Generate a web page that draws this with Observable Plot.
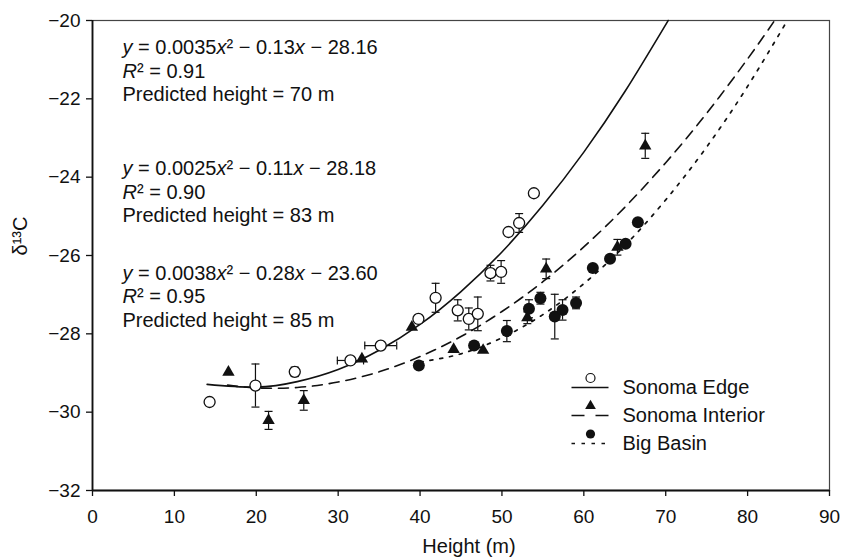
<!DOCTYPE html>
<html><head><meta charset="utf-8">
<script src="https://cdn.jsdelivr.net/npm/d3@7"></script>
<script src="https://cdn.jsdelivr.net/npm/@observablehq/plot@0.6"></script>
<style>body{margin:0;background:#fff}</style>
</head><body><div id="chart"></div>
<script>
// ---- axis ticks ----
const xTicks = [0, 10, 20, 30, 40, 50, 60, 70, 80, 90];
const yTicks = [-32, -30, -28, -26, -24, -22, -20];
const seriesNames = ["Sonoma Edge", "Sonoma Interior", "Big Basin"];

// ---- Sonoma Edge (open circles) ----
const edgeX    = [14.3, 19.9, 24.7, 31.5, 35.2, 39.8, 41.9, 44.6, 45.95, 47.05, 48.6, 49.9, 50.8, 52.1, 53.9];
const edgeY    = [-29.74, -29.32, -28.97, -28.68, -28.30, -27.62, -27.08, -27.40, -27.62, -27.49, -26.45, -26.42, -25.40, -25.17, -24.41];
const edgeYErr = [0, 0.55, 0.12, 0, 0, 0, 0.37, 0.27, 0.28, 0.43, 0.2, 0.29, 0, 0.24, 0];
const edgeXErr = [0, 0, 0, 1.6, 1.95, 0, 0, 0, 0, 0, 0, 0, 0, 0, 0];

// ---- Sonoma Interior (filled triangles) ----
const interiorX    = [16.6, 21.5, 25.8, 32.9, 39.0, 44.1, 47.7, 53.1, 55.4, 64.1, 67.5];
const interiorY    = [-28.98, -30.21, -29.70, -28.64, -27.83, -28.40, -28.42, -27.59, -26.34, -25.79, -23.2];
const interiorYErr = [0, 0.23, 0.25, 0, 0, 0, 0, 0.15, 0.25, 0.2, 0.32];

// ---- Big Basin (filled circles) ----
const basinX    = [39.85, 46.6, 50.6, 53.3, 54.7, 56.45, 57.4, 59.05, 61.1, 63.2, 65.1, 66.6];
const basinY    = [-28.81, -28.30, -27.93, -27.36, -27.09, -27.56, -27.39, -27.21, -26.32, -26.08, -25.70, -25.15];
const basinYErr = [0, 0, 0.27, 0.23, 0.15, 0.57, 0.26, 0.15, 0, 0, 0, 0];

// ---- fitted curves ----
const edgeCurveX = [14, 20, 25, 30, 35, 40, 45, 50, 55, 60, 65, 70.3];
const edgeCurveY = [-29.29, -29.36, -29.22, -28.91, -28.42, -27.76, -26.92, -25.91, -24.72, -23.36, -21.82, -20.0];
const interiorCurveX = [16.5, 20, 25, 30, 35, 40, 45, 50, 55, 60, 65, 70, 75, 80, 83.3];
const interiorCurveY = [-29.31, -29.38, -29.37, -29.23, -28.97, -28.58, -28.07, -27.43, -26.67, -25.78, -24.77, -23.63, -22.37, -20.98, -20.0];
const basinCurveX = [40, 45, 50, 55, 60, 65, 70, 75, 80, 84.85];
const basinCurveY = [-28.72, -28.51, -28.10, -27.51, -26.72, -25.75, -24.58, -23.23, -21.68, -20.0];

// ---- annotation text ----
const eqEdge = ["y = 0.0035x² − 0.13x − 28.16", "R² = 0.91", "Predicted height = 70 m"];
const eqInterior = ["y = 0.0025x² − 0.11x − 28.18", "R² = 0.90", "Predicted height = 83 m"];
const eqBasin = ["y = 0.0038x² − 0.28x − 23.60", "R² = 0.95", "Predicted height = 85 m"];
const xLabel = "Height (m)";
const yLabel = "δ¹³C";

const FONT = "'Liberation Sans', Arial, Helvetica, sans-serif";
const INK = "#111";

const curveRows = (xs, ys) => xs.map((x, i) => ({x, y: ys[i]}));
const pointRows = (xs, ys, ye, xe) => xs.map((x, i) => ({x, y: ys[i], ye: ye[i], xe: xe ? xe[i] : 0}));
const edge = pointRows(edgeX, edgeY, edgeYErr, edgeXErr);
const interior = pointRows(interiorX, interiorY, interiorYErr);
const basin = pointRows(basinX, basinY, basinYErr);
const allPts = [...edge, ...interior, ...basin];
const vBars = allPts.filter(d => d.ye > 0);
const hBars = allPts.filter(d => d.xe > 0);

const capH = {draw(c) { c.moveTo(-4, 0); c.lineTo(4, 0); }};
const capV = {draw(c) { c.moveTo(0, -4); c.lineTo(0, 4); }};
const seg = {draw(c) { c.moveTo(-18.5, 0); c.lineTo(18.5, 0); }};

const dashLong = "10,7", dashDot = "3,7";

const legendRow = (i, symbolOpts, dash) => {
  const base = -103 + i * 28;
  return [
    Plot.dot([0], {frameAnchor: "bottom-right", dx: -239.5, dy: base, symbol: seg, fill: "none", stroke: INK, strokeWidth: 1.5, strokeDasharray: dash}),
    Plot.dot([0], {frameAnchor: "bottom-right", dx: -239, dy: base - 9.5, ...symbolOpts}),
    Plot.text([seriesNames[i]], {frameAnchor: "bottom-right", dx: -207, dy: base, textAnchor: "start", lineAnchor: "middle", fontSize: 20, text: d => d, fill: INK})
  ];
};

const eqText = (lines, dy) => Plot.text([lines.join("\n")], {
  frameAnchor: "top-left", dx: 30, dy, textAnchor: "start", lineAnchor: "top", lineHeight: 1.175, fontSize: 20, text: d => d, fill: INK
});

const plot = Plot.plot({
  width: 841, height: 559,
  marginLeft: 92, marginRight: 12, marginTop: 20, marginBottom: 69,
  style: {fontSize: "19px", fontFamily: FONT, color: INK, background: "#fff"},
  x: {domain: [0, 90]},
  y: {domain: [-32, -20]},
  marks: [
    Plot.frame({stroke: "#444", strokeWidth: 1.2}),
    Plot.ruleX([0], {stroke: INK, strokeWidth: 1.8}),
    Plot.ruleY([-32], {stroke: INK, strokeWidth: 1.8}),
    Plot.axisX({ticks: xTicks, tickSize: 6, tickPadding: 13, label: null, tickFormat: d => String(d), strokeWidth: 1.3}),
    Plot.axisY({ticks: yTicks, tickSize: 6, tickPadding: 6, label: null, tickFormat: d => d < 0 ? "−" + Math.abs(d) : String(d), strokeWidth: 1.3}),
    Plot.text([xLabel], {frameAnchor: "bottom", dx: 8, dy: 62, fontSize: 20, text: d => d, fill: INK}),
    Plot.text([yLabel], {frameAnchor: "left", dx: -72, rotate: -90, fontSize: 20, text: d => d, fill: INK}),

    // fitted curves
    Plot.line(curveRows(edgeCurveX, edgeCurveY), {x: "x", y: "y", curve: "natural", stroke: INK, strokeWidth: 1.6}),
    Plot.line(curveRows(interiorCurveX, interiorCurveY), {x: "x", y: "y", curve: "natural", stroke: INK, strokeWidth: 1.6, strokeDasharray: dashLong}),
    Plot.line(curveRows(basinCurveX, basinCurveY), {x: "x", y: "y", curve: "natural", stroke: INK, strokeWidth: 1.7, strokeDasharray: dashDot}),

    // error bars
    Plot.ruleX(vBars, {x: "x", y1: d => d.y - d.ye, y2: d => d.y + d.ye, stroke: INK, strokeWidth: 1.2}),
    Plot.dot(vBars, {x: "x", y: d => d.y - d.ye, symbol: capH, fill: "none", stroke: INK, strokeWidth: 1.2}),
    Plot.dot(vBars, {x: "x", y: d => d.y + d.ye, symbol: capH, fill: "none", stroke: INK, strokeWidth: 1.2}),
    Plot.ruleY(hBars, {y: "y", x1: d => d.x - d.xe, x2: d => d.x + d.xe, stroke: INK, strokeWidth: 1.2}),
    Plot.dot(hBars, {x: d => d.x - d.xe, y: "y", symbol: capV, fill: "none", stroke: INK, strokeWidth: 1.2}),
    Plot.dot(hBars, {x: d => d.x + d.xe, y: "y", symbol: capV, fill: "none", stroke: INK, strokeWidth: 1.2}),

    // points
    Plot.dot(edge, {x: "x", y: "y", r: 5.5, fill: "white", stroke: INK, strokeWidth: 1.3}),
    Plot.dot(interior, {x: "x", y: "y", symbol: "triangle", r: 4.6, fill: INK, stroke: "none"}),
    Plot.dot(basin, {x: "x", y: "y", r: 6, fill: INK, stroke: "none"}),

    // equations
    eqText(eqEdge, 17),
    eqText(eqInterior, 138),
    eqText(eqBasin, 242.5),

    // legend
    ...legendRow(0, {r: 4.5, fill: "white", stroke: INK, strokeWidth: 1.2}, null),
    ...legendRow(1, {symbol: "triangle", r: 4, fill: INK, stroke: "none"}, "13,11"),
    ...legendRow(2, {r: 4.6, fill: INK, stroke: "none"}, "3.5,6.5")
  ]
});

// italic variables in the equations
const NS = "http://www.w3.org/2000/svg";
plot.querySelectorAll("text, tspan").forEach(el => {
  if (el.querySelector("tspan")) return;
  const s = el.textContent;
  if (!/^(y =|R²)/.test(s)) return;
  const parts = s.split(/(?<=^|[\d\s])([xyR])(?=[²\s])/);
  el.textContent = "";
  parts.forEach((p, i) => {
    if (!p) return;
    if (i % 2) {
      const t = document.createElementNS(NS, "tspan");
      t.setAttribute("font-style", "italic");
      t.textContent = p;
      el.appendChild(t);
    } else {
      el.appendChild(document.createTextNode(p));
    }
  });
});

document.getElementById("chart").appendChild(plot);
</script>
</body></html>
